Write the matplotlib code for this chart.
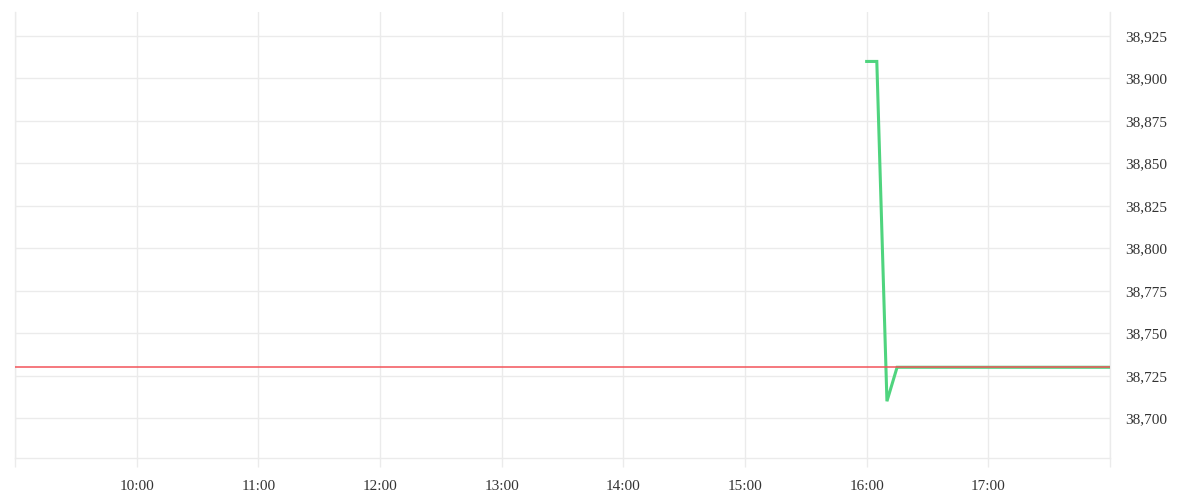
import matplotlib
matplotlib.use('Agg')
import matplotlib.pyplot as plt
import pandas as pd
from matplotlib.ticker import FuncFormatter

# ============================================================================
# Data
# ============================================================================
day = '2024-01-02'
price_times = ['16:00', '16:05', '16:10', '16:15', '18:00']
price_values = [38910, 38910, 38710, 38730, 38730]

ref_level = 38730
x_start, x_end = '09:00', '18:00'
y_min, y_max = 38676.6, 38939.1
y_ticks = [38700, 38725, 38750, 38775, 38800, 38825, 38850, 38875, 38900, 38925]
hour_ticks = ['09:00', '10:00', '11:00', '12:00', '13:00', '14:00',
              '15:00', '16:00', '17:00', '18:00']

t_price = pd.to_datetime([f'{day} {t}' for t in price_times])
t_lim = pd.to_datetime([f'{day} {x_start}', f'{day} {x_end}'])
t_ticks = pd.to_datetime([f'{day} {t}' for t in hour_ticks])

# ============================================================================
# Figure
# ============================================================================
plt.rcParams['font.family'] = ['Liberation Serif', 'DejaVu Serif']
grid_col = '#ebebeb'
text_col = '#333333'

fig = plt.figure(figsize=(12, 5), dpi=100)
ax = fig.add_axes([15 / 1200, 1 - 458 / 500, 1095 / 1200, 446 / 500])

ax.axhline(ref_level, color='#f2545a', lw=1.1, zorder=4)
ax.plot(t_price, price_values, color='#4fd47e', lw=2.2, zorder=3,
        solid_joinstyle='miter')

ax.set_xlim(t_lim[0], t_lim[1])
ax.set_ylim(y_min, y_max)

# hour ticks, the two edge hours carry no label
ax.set_xticks(t_ticks)
ax.set_xticklabels([''] + hour_ticks[1:-1] + [''])
ax.set_yticks(y_ticks)
ax.yaxis.set_major_formatter(FuncFormatter(lambda v, p: f'{v:,.0f}'))
ax.yaxis.tick_right()

ax.grid(True, color=grid_col, lw=1.0)
ax.set_axisbelow(True)
ax.spines['top'].set_visible(False)
for side in ['left', 'right', 'bottom']:
    ax.spines[side].set_color(grid_col)
    ax.spines[side].set_linewidth(1.0)

ax.tick_params(axis='x', length=6.5, width=1.0, color=grid_col,
               labelsize=11, labelcolor=text_col, pad=9)
ax.tick_params(axis='y', length=0, labelsize=11, labelcolor=text_col, pad=11)

fig.savefig('out.png', dpi=100, facecolor='white')
